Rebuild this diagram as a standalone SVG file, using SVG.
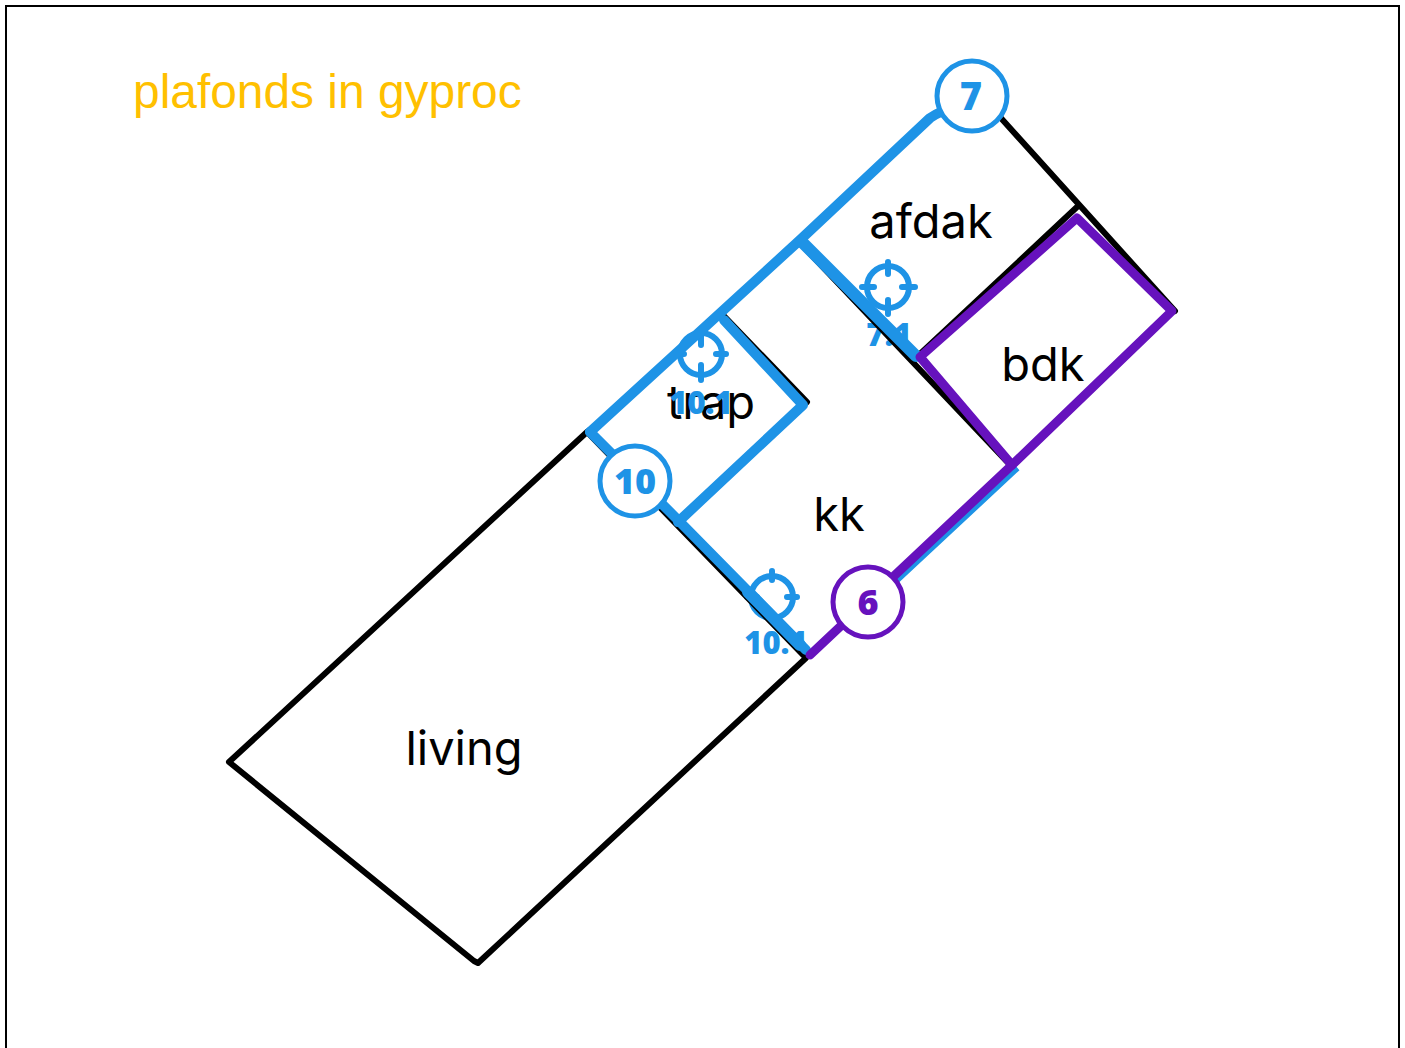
<svg xmlns="http://www.w3.org/2000/svg" width="1405" height="1048" viewBox="0 0 1405 1048">
<style>
.bk{fill:none;stroke:#000;stroke-width:6;stroke-linejoin:round;stroke-linecap:round}
.bl{fill:none;stroke:#1e93e6;stroke-width:10;stroke-linejoin:round;stroke-linecap:round}
.bt{fill:none;stroke:#1e93e6;stroke-width:12;stroke-linejoin:round;stroke-linecap:round}
.pu{fill:none;stroke:#6612bd;stroke-width:9;stroke-linejoin:round;stroke-linecap:round}
.room{font-family:Inter,"Liberation Sans",Arial,sans-serif;font-size:47px;fill:#000;text-anchor:middle}
.tag{font-family:"Open Sans","Noto Sans",sans-serif;font-weight:800;fill:#1e93e6;text-anchor:middle}
.cir{fill:#fff;stroke-width:5}
.tg{fill:none;stroke:#1e93e6;stroke-width:6}
.tk{fill:none;stroke:#1e93e6;stroke-width:6;stroke-linecap:round}
</style>
<rect x="6" y="6" width="1393" height="1060" fill="#fff" stroke="#000" stroke-width="2"/>
<text id="title" x="133" y="108" font-family="'Liberation Sans',Arial,sans-serif" font-size="47.9" fill="#ffc000">plafonds in gyproc</text>
<g id="afdak"><text class="room" x="931" y="238">afdak</text></g>
<g id="bdk"><text class="room" x="1043" y="381">bdk</text></g>
<g id="trap"><text class="room" x="711" y="419">trap</text></g>
<g id="kk"><text class="room" x="839" y="531">kk</text></g>
<g id="living"><text class="room" x="464" y="765">living</text></g>
<g id="marker-10-1a">
<circle class="tg" cx="701" cy="354" r="21"/>
<path class="tk" d="M701,333V345M701,365V380M680,354H684M716,354H726"/>
<text class="tag" x="701" y="414" font-size="31">10.1</text>
</g>
<g id="marker-10-1b">
<circle class="tg" cx="772" cy="597" r="21"/>
<path class="tk" d="M772,571V580M772,614V620M747,597H757M787,597H797"/>
<text class="tag" x="776" y="654" font-size="31">10.1</text>
</g>
<g id="marker-7-1">
<circle class="tg" cx="888" cy="287" r="21"/>
<path class="tk" d="M888,262V274M888,300V314M862,287H874M902,287H915"/>
<text class="tag" x="889" y="346" font-size="31">7.1</text>
</g>
<g id="connectors">
<path class="bk" d="M587,432L229,762L474,961L478,963L806,658L587,432"/>
<path class="bk" d="M1000,117L1175,311"/>
<path class="bk" d="M800,243L1012,467"/>
<path class="bk" d="M1077,207L920,354"/>
<path class="bk" d="M724,316L807,402L678,522"/>
<path class="bl" d="M590,432L800,240L930,118Q940,111 955,107"/>
<path class="bl" d="M590,432L678,520L806,650"/>
<path class="bt" d="M748,592L800,645"/>
<path class="bt" d="M801,241L916,356"/>
<path class="bl" d="M678,522L803,405L724,320"/>
<path fill="none" stroke="#1e93e6" stroke-width="5" d="M918,356L1016,470L897,581"/>
<path class="pu" d="M1077,218L1172,311L1012,465L920,357Z"/>
<path class="pu" d="M1012,465L810,655"/>
</g>
<g id="n7"><circle class="cir" stroke="#1e93e6" cx="972" cy="96" r="35"/><text class="tag" x="971" y="110" font-size="38">7</text></g>
<g id="n10"><circle class="cir" stroke="#1e93e6" cx="635" cy="481" r="35"/><text class="tag" x="635" y="494" font-size="36">10</text></g>
<g id="n6"><circle class="cir" stroke="#6612bd" cx="868" cy="602" r="35"/><text class="tag" style="fill:#6612bd" x="868" y="615" font-size="36">6</text></g>
</svg>
